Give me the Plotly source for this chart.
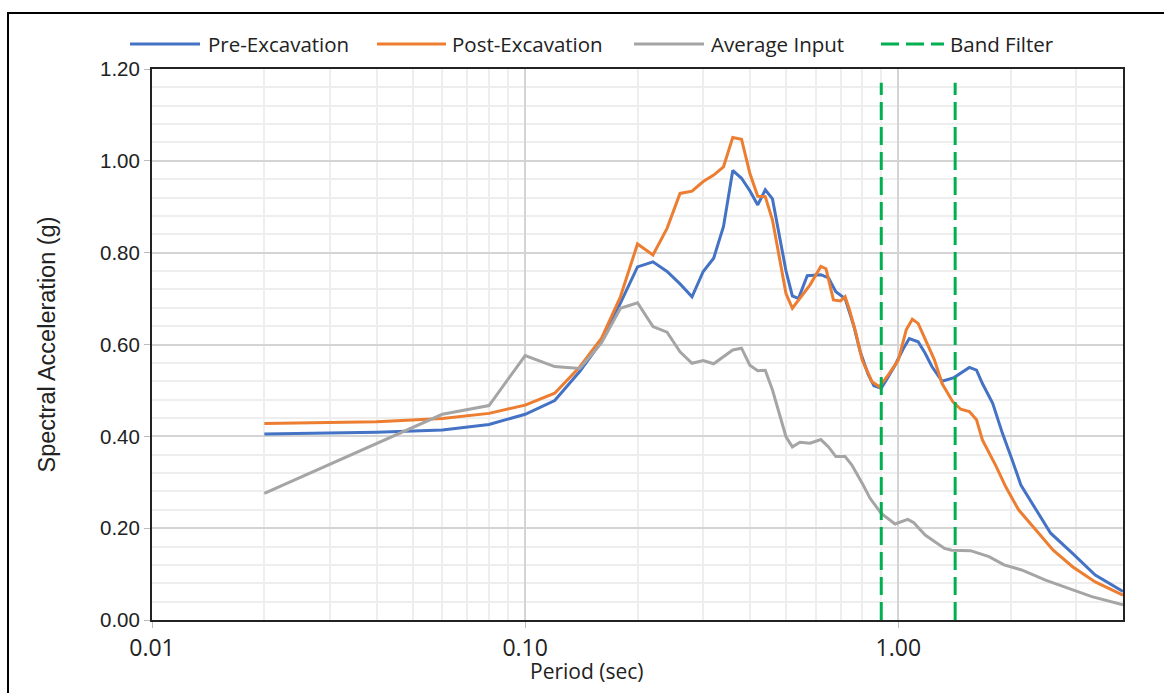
import plotly.graph_objects as go

# Response spectra (period in sec, spectral acceleration in g)
period_pre = [0.02, 0.04, 0.06, 0.08, 0.10, 0.12, 0.14, 0.16, 0.18, 0.20, 0.22, 0.24, 0.26, 0.28,
              0.30, 0.32, 0.34, 0.36, 0.38, 0.40, 0.42, 0.44, 0.46, 0.50, 0.52, 0.54, 0.57, 0.62,
              0.65, 0.68, 0.72, 0.76, 0.79, 0.83, 0.86, 0.90, 0.94, 0.98, 1.03, 1.07, 1.13, 1.18,
              1.23, 1.31, 1.41, 1.47, 1.55, 1.62, 1.68, 1.79, 1.90, 2.02, 2.13, 2.34, 2.56, 2.93,
              3.37, 4.00]
sa_pre = [0.405, 0.409, 0.414, 0.426, 0.448, 0.478, 0.541, 0.606, 0.690, 0.769, 0.780, 0.759, 0.732, 0.704,
          0.759, 0.788, 0.857, 0.979, 0.962, 0.935, 0.904, 0.937, 0.917, 0.760, 0.706, 0.700, 0.750, 0.752,
          0.745, 0.715, 0.700, 0.640, 0.585, 0.535, 0.510, 0.505, 0.530, 0.555, 0.590, 0.613, 0.606, 0.581,
          0.552, 0.520, 0.528, 0.537, 0.550, 0.544, 0.515, 0.472, 0.407, 0.348, 0.294, 0.240, 0.189, 0.145,
          0.098, 0.062]

period_post = [0.02, 0.04, 0.06, 0.08, 0.10, 0.12, 0.14, 0.16, 0.18, 0.20, 0.22, 0.24, 0.26, 0.28,
               0.30, 0.32, 0.34, 0.36, 0.38, 0.40, 0.42, 0.44, 0.46, 0.50, 0.52, 0.55, 0.58, 0.62,
               0.64, 0.67, 0.70, 0.72, 0.74, 0.77, 0.80, 0.85, 0.89, 0.94, 1.00, 1.05, 1.09, 1.13,
               1.18, 1.25, 1.31, 1.40, 1.47, 1.55, 1.62, 1.68, 1.83, 1.94, 2.10, 2.34, 2.60, 2.93,
               3.37, 4.00]
sa_post = [0.428, 0.432, 0.439, 0.450, 0.468, 0.494, 0.551, 0.613, 0.704, 0.819, 0.795, 0.853, 0.929, 0.934,
           0.955, 0.969, 0.987, 1.051, 1.047, 0.973, 0.923, 0.922, 0.871, 0.711, 0.679, 0.705, 0.730, 0.770,
           0.765, 0.697, 0.695, 0.704, 0.675, 0.624, 0.566, 0.519, 0.508, 0.534, 0.566, 0.632, 0.655, 0.646,
           0.613, 0.566, 0.515, 0.475, 0.459, 0.454, 0.436, 0.392, 0.334, 0.290, 0.240, 0.196, 0.152, 0.116,
           0.083, 0.054]

period_avg = [0.02, 0.04, 0.06, 0.08, 0.10, 0.12, 0.14, 0.16, 0.18, 0.20, 0.22, 0.24, 0.26, 0.28,
              0.30, 0.32, 0.36, 0.38, 0.40, 0.42, 0.44, 0.46, 0.50, 0.52, 0.545, 0.58, 0.62, 0.65,
              0.68, 0.72, 0.75, 0.80, 0.84, 0.90, 0.98, 1.06, 1.10, 1.18, 1.25, 1.33, 1.39, 1.56,
              1.75, 1.92, 2.14, 2.48, 2.86, 3.30, 4.00]
sa_avg = [0.276, 0.385, 0.448, 0.467, 0.576, 0.552, 0.548, 0.603, 0.679, 0.691, 0.639, 0.627, 0.584, 0.559,
          0.565, 0.558, 0.588, 0.592, 0.555, 0.543, 0.544, 0.501, 0.399, 0.377, 0.387, 0.385, 0.393, 0.377,
          0.356, 0.356, 0.338, 0.298, 0.265, 0.232, 0.209, 0.219, 0.212, 0.185, 0.171, 0.156, 0.152, 0.151,
          0.138, 0.120, 0.109, 0.087, 0.069, 0.051, 0.033]

# Band filter limits (sec) and the height the marker lines reach (g)
band_periods = [0.90, 1.42]
band_top = 1.17

x_tickvals = [0.01, 0.1, 1.0]
x_ticktext = ["0.01", "0.10", "1.00"]

BLUE = "#4472C4"
ORANGE = "#ED7D31"
GRAY = "#A5A5A5"
GREEN = "#00B050"
DASH = "18px,7px"

series = [
    ("Pre-Excavation", period_pre, sa_pre, BLUE),
    ("Post-Excavation", period_post, sa_post, ORANGE),
    ("Average Input", period_avg, sa_avg, GRAY),
]

fig = go.Figure()
for name, xs, ys, color in series:
    fig.add_trace(go.Scatter(x=xs, y=ys, mode="lines", name=name,
                             line=dict(color=color, width=3), showlegend=False))

for p in band_periods:
    fig.add_trace(go.Scatter(x=[p, p], y=[0, band_top], mode="lines", name="Band Filter",
                             line=dict(color=GREEN, width=3, dash=DASH), showlegend=False))

# Figure geometry (px) used to place paper-referenced decorations
W, H = 1164, 693
L, R, T, B = 152, 41, 69, 73
pw, ph = W - L - R, H - T - B


def px_x(x):
    return (x - L) / pw


def px_y(y):
    return (H - B - y) / ph


# Legend drawn along the top
legend_items = [
    ("Pre-Excavation", BLUE, "solid", 130, 200, 206),
    ("Post-Excavation", ORANGE, "solid", 377, 446, 450),
    ("Average Input", GRAY, "solid", 634, 704, 709),
    ("Band Filter", GREEN, DASH, 881, 944, 948),
]
shapes = []
annotations = []
ly = px_y(44)
for label, color, dash, x0, x1, tx in legend_items:
    shapes.append(dict(type="line", xref="paper", yref="paper", x0=px_x(x0), x1=px_x(x1),
                       y0=ly, y1=ly, line=dict(color=color, width=3, dash=dash)))
    annotations.append(dict(text=label, xref="paper", yref="paper", x=px_x(tx), y=ly,
                            xanchor="left", yanchor="middle", showarrow=False,
                            font=dict(family="Open Sans", size=20.5, color="#222")))

# Outer chart frame
shapes.append(dict(type="rect", xref="paper", yref="paper", x0=px_x(8), x1=px_x(1180),
                   y0=px_y(710), y1=px_y(13), line=dict(color="#000", width=2), layer="below"))

annotations.append(dict(text="Period (sec)", xref="paper", yref="paper", x=px_x(587), y=px_y(671),
                        xanchor="center", yanchor="middle", showarrow=False,
                        font=dict(family="Open Sans", size=21, color="#222")))
annotations.append(dict(text="Spectral Acceleration (g)", xref="paper", yref="paper", x=px_x(46),
                        y=0.5, xanchor="center", yanchor="middle", textangle=-90, showarrow=False,
                        font=dict(family="Liberation Sans", size=23.5, color="#222")))

fig.update_layout(
    width=W, height=H,
    margin=dict(l=L, r=R, t=T, b=B),
    paper_bgcolor="white", plot_bgcolor="white",
    shapes=shapes, annotations=annotations,
    xaxis=dict(type="log", range=[-2, 0.60206], tickvals=x_tickvals, ticktext=x_ticktext,
               showgrid=True, gridcolor="#D4D4D4", gridwidth=2,
               minor=dict(dtick="D1", showgrid=True, gridcolor="#EEEEEE", gridwidth=2),
               showline=True, linecolor="#222", linewidth=2, mirror=True,
               ticks="outside", ticklen=6, tickcolor="#BBBBBB",
               tickfont=dict(family="Open Sans", size=23, color="#222"), zeroline=False),
    yaxis=dict(range=[0, 1.2], dtick=0.2, tickformat=".2f",
               showgrid=True, gridcolor="#D4D4D4", gridwidth=2,
               minor=dict(dtick=0.04, showgrid=True, gridcolor="#EEEEEE", gridwidth=2),
               showline=True, linecolor="#222", linewidth=2, mirror=True,
               ticks="outside", ticklen=6, tickcolor="#BBBBBB",
               tickfont=dict(family="Liberation Sans", size=20.5, color="#222"), zeroline=False),
)

fig.write_html("out.html")
